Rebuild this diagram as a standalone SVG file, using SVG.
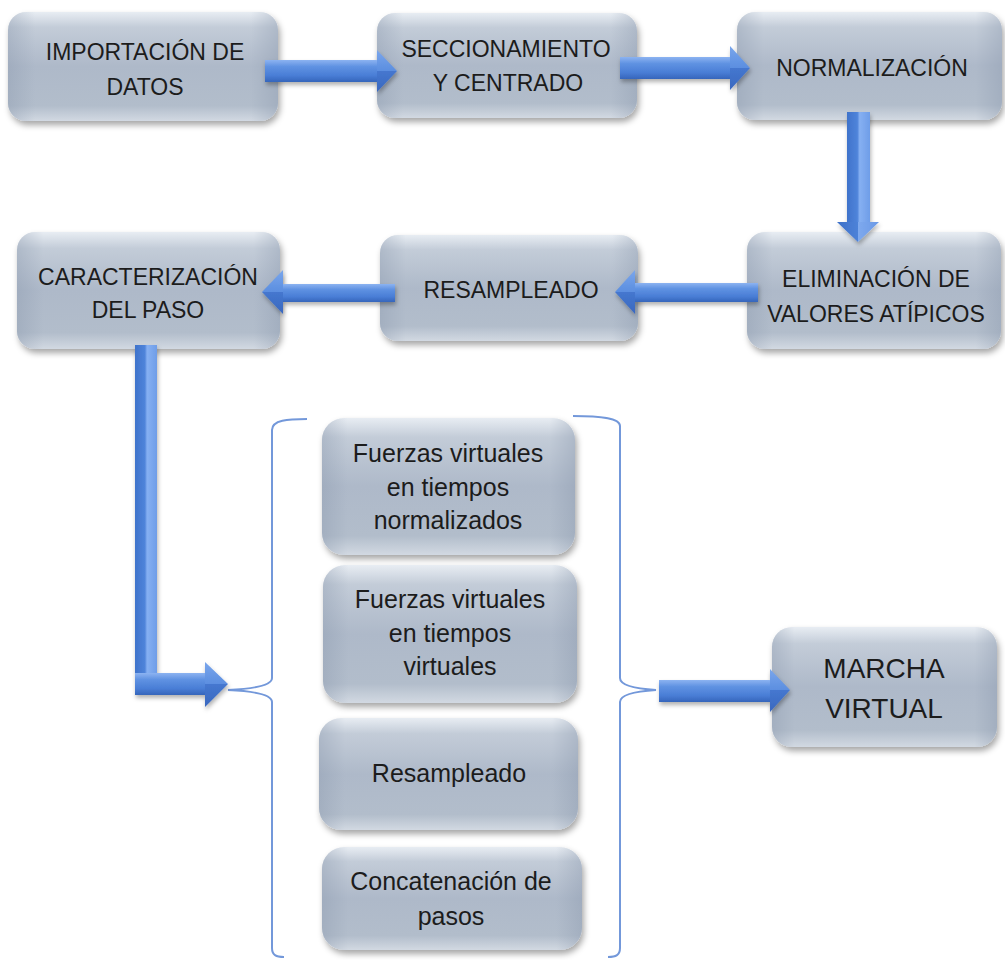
<svg xmlns="http://www.w3.org/2000/svg" width="1005" height="960" viewBox="0 0 1005 960">
<style>
.t{font-family:"Liberation Sans",Arial,sans-serif;fill:#1c1c1c;text-anchor:middle}
.u{font-size:23px}
.l{font-size:25px}
.m{font-size:28px}
.box{fill:url(#boxG);filter:url(#sh)}
.side{fill:url(#sideG)}
.brace{fill:none;stroke:#7398da;stroke-width:2}
.sh{fill:url(#shH)}
.sv{fill:url(#shV)}
.hh{fill:url(#hdH)}
.hv{fill:url(#hdV)}
.arr{filter:url(#ash)}
</style>
<defs>
<linearGradient id="boxG" x1="0" y1="0" x2="0" y2="1">
<stop offset="0" stop-color="#e8edf3"/>
<stop offset="0.14" stop-color="#c3ccd8"/>
<stop offset="0.5" stop-color="#aeb9c9"/>
<stop offset="0.86" stop-color="#b2bdcb"/>
<stop offset="1" stop-color="#d2d9e2"/>
</linearGradient>
<linearGradient id="sideG" x1="0" y1="0" x2="1" y2="0">
<stop offset="0" stop-color="#8896ab" stop-opacity="0.35"/>
<stop offset="0.1" stop-color="#8896ab" stop-opacity="0"/>
<stop offset="0.9" stop-color="#8896ab" stop-opacity="0"/>
<stop offset="1" stop-color="#8896ab" stop-opacity="0.35"/>
</linearGradient>
<linearGradient id="shH" x1="0" y1="0" x2="0" y2="1">
<stop offset="0" stop-color="#8cb3f1"/>
<stop offset="0.3" stop-color="#5f92e2"/>
<stop offset="0.7" stop-color="#4a7ed6"/>
<stop offset="1" stop-color="#3565bb"/>
</linearGradient>
<linearGradient id="hdH" x1="0" y1="0" x2="0" y2="1">
<stop offset="0" stop-color="#7aa6ec"/>
<stop offset="0.5" stop-color="#5b8ee0"/>
<stop offset="0.5" stop-color="#4577cf"/>
<stop offset="1" stop-color="#3a68bf"/>
</linearGradient>
<linearGradient id="shV" x1="0" y1="0" x2="1" y2="0">
<stop offset="0" stop-color="#3f73cb"/>
<stop offset="0.45" stop-color="#4f84da"/>
<stop offset="0.55" stop-color="#86b0f2"/>
<stop offset="1" stop-color="#6e9de8"/>
</linearGradient>
<linearGradient id="hdV" x1="0" y1="0" x2="1" y2="0">
<stop offset="0" stop-color="#3d70c8"/>
<stop offset="0.5" stop-color="#4d82d8"/>
<stop offset="0.5" stop-color="#7ea9ee"/>
<stop offset="1" stop-color="#6a99e6"/>
</linearGradient>
<filter id="sh" x="-10%" y="-10%" width="125%" height="135%">
<feDropShadow dx="2" dy="4" stdDeviation="3" flood-color="#000" flood-opacity="0.35"/>
</filter>
<filter id="ash" x="-10%" y="-20%" width="125%" height="150%">
<feDropShadow dx="1" dy="3" stdDeviation="2" flood-color="#000" flood-opacity="0.3"/>
</filter>
</defs>
<rect width="1005" height="960" fill="#ffffff"/>

<g id="node-importacion">
<rect class="box" x="8" y="12" width="270" height="109" rx="18"/>
<rect class="side" x="8" y="12" width="270" height="109" rx="18"/>
<text class="t u" x="145" y="60">IMPORTACIÓN DE</text>
<text class="t u" x="145" y="95">DATOS</text>
</g>
<g id="node-seccionamiento">
<rect class="box" x="377" y="13" width="260" height="105" rx="18"/>
<rect class="side" x="377" y="13" width="260" height="105" rx="18"/>
<text class="t u" x="506" y="57">SECCIONAMIENTO</text>
<text class="t u" x="508" y="91">Y CENTRADO</text>
</g>
<g id="node-normalizacion">
<rect class="box" x="737" y="12" width="265" height="108" rx="18"/>
<rect class="side" x="737" y="12" width="265" height="108" rx="18"/>
<text class="t u" x="872" y="76">NORMALIZACIÓN</text>
</g>
<g id="node-eliminacion">
<rect class="box" x="747" y="232" width="254" height="117" rx="18"/>
<rect class="side" x="747" y="232" width="254" height="117" rx="18"/>
<text class="t u" x="876" y="287">ELIMINACIÓN DE</text>
<text class="t u" x="876" y="322">VALORES ATÍPICOS</text>
</g>
<g id="node-resampleado">
<rect class="box" x="380" y="235" width="258" height="106" rx="18"/>
<rect class="side" x="380" y="235" width="258" height="106" rx="18"/>
<text class="t u" x="511" y="298">RESAMPLEADO</text>
</g>
<g id="node-caracterizacion">
<rect class="box" x="17" y="232" width="263" height="117" rx="18"/>
<rect class="side" x="17" y="232" width="263" height="117" rx="18"/>
<text class="t u" x="148" y="285">CARACTERIZACIÓN</text>
<text class="t u" x="148" y="318">DEL PASO</text>
</g>
<g id="node-fuerzas-normalizados">
<rect class="box" x="322" y="418" width="253" height="137" rx="22"/>
<rect class="side" x="322" y="418" width="253" height="137" rx="22"/>
<text class="t l" x="448" y="462">Fuerzas virtuales</text>
<text class="t l" x="448" y="496">en tiempos</text>
<text class="t l" x="448" y="529">normalizados</text>
</g>
<g id="node-fuerzas-virtuales">
<rect class="box" x="323" y="565" width="254" height="138" rx="22"/>
<rect class="side" x="323" y="565" width="254" height="138" rx="22"/>
<text class="t l" x="450" y="608">Fuerzas virtuales</text>
<text class="t l" x="450" y="642">en tiempos</text>
<text class="t l" x="450" y="675">virtuales</text>
</g>
<g id="node-resampleado2">
<rect class="box" x="319" y="718" width="259" height="112" rx="22"/>
<rect class="side" x="319" y="718" width="259" height="112" rx="22"/>
<text class="t l" x="449" y="782">Resampleado</text>
</g>
<g id="node-concatenacion">
<rect class="box" x="322" y="847" width="260" height="103" rx="22"/>
<rect class="side" x="322" y="847" width="260" height="103" rx="22"/>
<text class="t l" x="451" y="890">Concatenación de</text>
<text class="t l" x="451" y="925">pasos</text>
</g>
<g id="node-marcha">
<rect class="box" x="772" y="627" width="225" height="120" rx="20"/>
<rect class="side" x="772" y="627" width="225" height="120" rx="20"/>
<text class="t m" x="884" y="678">MARCHA</text>
<text class="t m" x="884" y="718">VIRTUAL</text>
</g>

<g id="connectors">
<path class="brace" d="M307,419 C288,419 272,420 272,430 L272,678 C272,686 250,689 228,690 C250,691 272,694 272,702 L272,948 C272,955 276,957 284,957"/>
<path class="brace" d="M573,416 C600,416 620,418 620,426 L620,678 C620,686 640,689 656,690 C640,691 620,694 620,702 L620,948 C620,955 616,957 608,957"/>
<g class="arr">
<rect class="sh" x="265" y="60" width="113" height="22"/>
<polygon class="hh" points="377,50 397,71 377,92"/>
</g>
<g class="arr">
<rect class="sh" x="620" y="57" width="111" height="22"/>
<polygon class="hh" points="730,46 750,68 730,90"/>
</g>
<g class="arr">
<rect class="sv" x="847" y="112" width="23" height="111"/>
<polygon class="hv" points="837,222 879,222 858,242"/>
</g>
<g class="arr">
<rect class="sh" x="634" y="283" width="124" height="19"/>
<polygon class="hh" points="635,270 615,292 635,314"/>
</g>
<g class="arr">
<rect class="sh" x="282" y="284" width="113" height="18"/>
<polygon class="hh" points="283,270 262,292 283,314"/>
</g>
<g class="arr">
<rect class="sv" x="135" y="345" width="22" height="350"/>
<rect class="sh" x="135" y="673" width="71" height="22"/>
<polygon class="hh" points="205,662 228,684 205,707"/>
</g>
<g class="arr">
<rect class="sh" x="659" y="680" width="112" height="22"/>
<polygon class="hh" points="770,669 790,690 770,712"/>
</g>
</g>
</svg>
